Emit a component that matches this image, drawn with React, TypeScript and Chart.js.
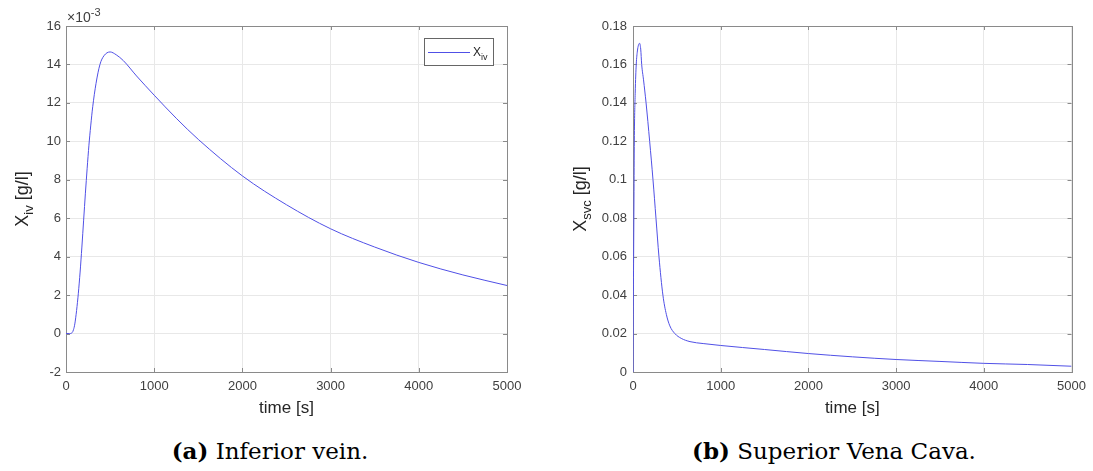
import React, { useEffect, useRef } from "react";
import { Chart, registerables } from "chart.js";

Chart.register(...registerables);

// ---------- data ----------
const timeTicks = [0, 1000, 2000, 3000, 4000, 5000];

// Inferior vein, values in units of 1e-3 g/l
const ivTime = [0, 40, 70, 85, 100, 120, 140, 160, 180, 200, 220, 240, 260, 280, 303, 340, 385, 430, 500, 570, 650, 800, 1000, 1250, 1500, 2000, 2500, 3000, 3500, 4000, 4500, 5000];
const ivValueMilli = [0, 0, 0.05, 0.2, 0.5, 1.2, 2.1, 3.2, 4.5, 5.9, 7.3, 8.6, 9.8, 10.8, 11.8, 13.0, 14.0, 14.45, 14.65, 14.5, 14.2, 13.4, 12.4, 11.2, 10.1, 8.2, 6.7, 5.45, 4.5, 3.7, 3.05, 2.5];
const ivYMin = -2;
const ivYMax = 16;
const ivYStep = 2;

// Superior vena cava, values in g/l
const svcTime = [0, 3, 7, 11, 15, 25, 37, 50, 62, 75, 88, 99, 120, 149, 190, 228, 262, 296, 341, 380, 420, 477, 550, 650, 800, 1000, 1500, 2000, 2500, 3000, 3500, 4000, 4500, 5000];
const svcValue = [0, 0.03, 0.06, 0.09, 0.12, 0.145, 0.16, 0.167, 0.17, 0.171, 0.168, 0.16, 0.152, 0.14, 0.12, 0.1, 0.08, 0.06, 0.04, 0.03, 0.024, 0.02, 0.0175, 0.0158, 0.0148, 0.0138, 0.0117, 0.0096, 0.0079, 0.0065, 0.0055, 0.0045, 0.0039, 0.003];
const svcYMin = 0;
const svcYMax = 0.18;
const svcYStep = 0.02;

const LINE_COLOR = "#5050e6";
const TEXT_COLOR = "#404040";
const AXIS_COLOR = "#8a8a8a";
const GRID_COLOR = "#e8e8e8";
const SANS = "'Liberation Sans', Arial, Helvetica, sans-serif";

const fmt = (v: number) => String(parseFloat(Number(v).toFixed(6)));

const framePlugin = {
  id: "matlabFrame",
  beforeDatasetsDraw(chart: any) {
    const { ctx, chartArea: a, scales } = chart;
    ctx.save();
    ctx.strokeStyle = AXIS_COLOR;
    ctx.lineWidth = 1;
    const L = 4;
    const line = (x1: number, y1: number, x2: number, y2: number) => {
      ctx.beginPath();
      ctx.moveTo(x1, y1);
      ctx.lineTo(x2, y2);
      ctx.stroke();
    };
    scales.x.ticks.forEach((t: any) => {
      const px = Math.round(scales.x.getPixelForValue(t.value)) + 0.5;
      line(px, a.bottom, px, a.bottom - L);
      line(px, a.top, px, a.top + L);
    });
    scales.y.ticks.forEach((t: any) => {
      const py = Math.round(scales.y.getPixelForValue(t.value)) + 0.5;
      line(a.left, py, a.left + L, py);
      line(a.right, py, a.right - L, py);
    });
    ctx.strokeRect(Math.round(a.left) + 0.5, Math.round(a.top) + 0.5, Math.round(a.right - a.left), Math.round(a.bottom - a.top));
    ctx.restore();
  },
  afterDraw(chart: any, _args: any, opts: any) {
    const { ctx, chartArea: a } = chart;
    ctx.save();
    ctx.fillStyle = "#262626";
    // rotated y title with subscript
    if (opts && opts.yMain) {
      const mainFont = `18px ${SANS}`;
      const subFont = `13px ${SANS}`;
      ctx.font = mainFont;
      const wMain = ctx.measureText(opts.yMain).width;
      const wRest = ctx.measureText(opts.yRest).width;
      ctx.font = subFont;
      const wSub = ctx.measureText(opts.ySub).width;
      const total = wMain + wSub + wRest;
      const cy = (a.top + a.bottom) / 2;
      ctx.translate(opts.yTitleX, cy);
      ctx.rotate(-Math.PI / 2);
      ctx.textBaseline = "alphabetic";
      ctx.textAlign = "left";
      let u = -total / 2;
      ctx.font = mainFont;
      ctx.fillText(opts.yMain, u, 6);
      u += wMain;
      ctx.font = subFont;
      ctx.fillText(opts.ySub, u, 11);
      u += wSub;
      ctx.font = mainFont;
      ctx.fillText(opts.yRest, u, 6);
      ctx.setTransform(1, 0, 0, 1, 0, 0);
    }
    // exponent label
    if (opts && opts.exponent) {
      ctx.fillStyle = TEXT_COLOR;
      ctx.textAlign = "left";
      ctx.textBaseline = "alphabetic";
      ctx.font = `14px ${SANS}`;
      const base = "\u00d710";
      ctx.fillText(base, a.left + 1, a.top - 4);
      const w = ctx.measureText(base).width;
      ctx.font = `11px ${SANS}`;
      ctx.fillText(opts.exponent, a.left + 1 + w, a.top - 10);
    }
    // legend
    if (opts && opts.legend) {
      const lg = opts.legend;
      const x0 = a.right - 83;
      const y0 = a.top + 12;
      const w = 69;
      const h = 27;
      ctx.fillStyle = "#ffffff";
      ctx.fillRect(x0, y0, w, h);
      ctx.strokeStyle = "#666666";
      ctx.lineWidth = 1;
      ctx.strokeRect(x0 + 0.5, y0 + 0.5, w, h);
      ctx.strokeStyle = LINE_COLOR;
      ctx.beginPath();
      ctx.moveTo(x0 + 4, y0 + 14.5);
      ctx.lineTo(x0 + 46, y0 + 14.5);
      ctx.stroke();
      ctx.fillStyle = "#262626";
      ctx.font = `12px ${SANS}`;
      ctx.textBaseline = "alphabetic";
      ctx.fillText(lg.main, x0 + 49, y0 + 18);
      const wm = ctx.measureText(lg.main).width;
      ctx.font = `9px ${SANS}`;
      ctx.fillText(lg.sub, x0 + 49 + wm, y0 + 22);
    }
    ctx.restore();
  },
};

function makeConfig(
  times: number[],
  values: number[],
  label: string,
  yMin: number,
  yMax: number,
  yStep: number,
  yAxisWidth: number,
  padRight: number,
  tickPad: number,
  textOpts: any
) {
  return {
    type: "line" as const,
    data: {
      datasets: [
        {
          label,
          data: times.map((t, i) => ({ x: t, y: values[i] })),
          borderColor: LINE_COLOR,
          borderWidth: 1,
          pointRadius: 0,
          fill: false,
          cubicInterpolationMode: "monotone" as const,
        },
      ],
    },
    options: {
      responsive: false,
      animation: false as const,
      devicePixelRatio: 1,
      layout: { padding: { left: 0, right: padRight, top: 26, bottom: 3 } },
      plugins: {
        legend: { display: false },
        tooltip: { enabled: false },
        matlabFrame: textOpts,
      },
      scales: {
        x: {
          type: "linear" as const,
          min: timeTicks[0],
          max: timeTicks[timeTicks.length - 1],
          afterBuildTicks: (s: any) => {
            s.ticks = timeTicks.map((v) => ({ value: v }));
          },
          afterFit: (s: any) => {
            s.height = 55;
          },
          grid: { color: GRID_COLOR, drawTicks: false },
          border: { display: false },
          ticks: {
            color: TEXT_COLOR,
            font: { family: SANS, size: 13 },
            padding: 7,
            maxRotation: 0,
            callback: (v: any) => fmt(v),
          },
          title: {
            display: true,
            text: "time [s]",
            color: "#262626",
            font: { family: SANS, size: 17 },
            padding: { top: 0, bottom: 8 },
          },
        },
        y: {
          type: "linear" as const,
          min: yMin,
          max: yMax,
          ticks: {
            stepSize: yStep,
            color: TEXT_COLOR,
            font: { family: SANS, size: 13 },
            padding: tickPad,
            callback: (v: any) => fmt(v),
          },
          afterFit: (s: any) => {
            s.width = yAxisWidth;
          },
          grid: { color: GRID_COLOR, drawTicks: false },
          border: { display: false },
        },
      },
    },
    plugins: [framePlugin],
  };
}

function ChartCanvas(props: { config: any; left: number; width: number; height: number }) {
  const ref = useRef<HTMLCanvasElement | null>(null);
  useEffect(() => {
    if (!ref.current) return;
    const chart = new Chart(ref.current, props.config);
    return () => chart.destroy();
  }, []);
  return (
    <canvas
      ref={ref}
      width={props.width}
      height={props.height}
      style={{ position: "absolute", left: props.left, top: 0, width: props.width, height: props.height }}
    />
  );
}

export default function App() {
  const ivConfig = makeConfig(ivTime, ivValueMilli, "X_iv", ivYMin, ivYMax, ivYStep, 66, 39, 5, {
    yMain: "X",
    ySub: "iv",
    yRest: " [g/l]",
    yTitleX: 22,
    exponent: "-3",
    legend: { main: "X", sub: "iv" },
  });
  const svcConfig = makeConfig(svcTime, svcValue, "X_svc", svcYMin, svcYMax, svcYStep, 87, 20, 6, {
    yMain: "X",
    ySub: "svc",
    yRest: " [g/l]",
    yTitleX: 34,
  });
  const captionStyle = (center: number): React.CSSProperties => ({
    position: "absolute",
    left: center - 200,
    width: 400,
    top: 438,
    height: 26,
    lineHeight: "26px",
    textAlign: "center",
    fontFamily: "'DejaVu Serif', serif",
    fontSize: 23,
    color: "#000",
    whiteSpace: "nowrap",
  });
  return (
    <div style={{ position: "absolute", left: 0, top: 0, width: 1093, height: 471, background: "#fff", overflow: "hidden" }}>
      <ChartCanvas config={ivConfig} left={0} width={546} height={430} />
      <ChartCanvas config={svcConfig} left={546} width={547} height={430} />
      <div style={captionStyle(270)}>
        <b>(a)</b> Inferior vein.
      </div>
      <div style={captionStyle(834)}>
        <b>(b)</b> Superior Vena Cava.
      </div>
    </div>
  );
}
